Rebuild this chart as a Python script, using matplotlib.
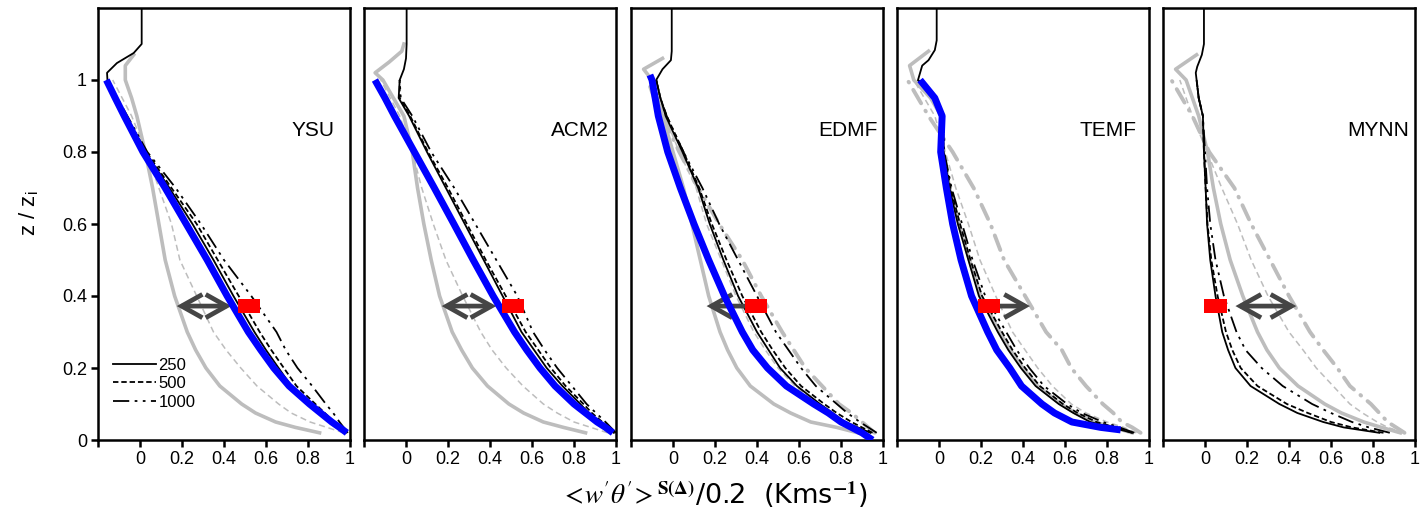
import numpy as np
import matplotlib
matplotlib.use("Agg")
import matplotlib.pyplot as plt
from matplotlib.patches import Rectangle, FancyArrowPatch

plt.rcParams['font.family'] = ['Liberation Sans', 'DejaVu Sans']
plt.rcParams['mathtext.fontset'] = 'stix'

nan = np.nan

# ---------------------------------------------------------------- data
schemes = ["YSU", "ACM2", "EDMF", "TEMF", "MYNN"]
resolutions = ["250", "500", "1000"]

# normalised heights z/zi shared by all profiles
z_lev = [0.02, 0.035, 0.05, 0.075, 0.1, 0.15, 0.2, 0.25, 0.3, 0.4, 0.5,
         0.6, 0.7, 0.8, 0.9, 0.95, 1.0]

# YSU
ysu_ref = [0.985, 0.95, 0.913, 0.86, 0.807, 0.71, 0.637, 0.575, 0.516, 0.415, 0.32, 0.22, 0.12, 0.014, -0.075, -0.118, -0.16]
ysu_250 = [0.98, 0.95, 0.915, 0.865, 0.81, 0.72, 0.66, 0.60, 0.545, 0.445, 0.35, 0.25, 0.14, 0.025, -0.07, -0.113, -0.155]
ysu_500 = [0.985, 0.955, 0.925, 0.88, 0.835, 0.745, 0.685, 0.625, 0.57, 0.47, 0.37, 0.27, 0.15, 0.03, -0.065, -0.11, -0.155]
ysu_1000 = [0.99, 0.97, 0.95, 0.92, 0.885, 0.82, 0.75, 0.694, 0.65, 0.53, 0.40, 0.29, 0.17, 0.035, -0.06, -0.108, -0.155]
ysu_g250 = [0.855, 0.74, 0.646, 0.55, 0.484, 0.38, 0.314, 0.265, 0.225, 0.165, 0.12, 0.09, 0.06, 0.025, -0.015, -0.04, -0.07]
ysu_g500 = [0.97, 0.89, 0.81, 0.72, 0.66, 0.557, 0.48, 0.41, 0.35, 0.27, 0.19, 0.15, 0.09, 0.03, -0.04, -0.085, -0.13]
ysu_g1000 = None
ysu_cap_z = [1.02, 1.047, 1.075, 1.10, 1.2]
ysu_cap_x = [-0.157, -0.11, -0.03, 0.008, 0.008]
ysu_gcap_z = [1.04, 1.07]
ysu_gcap_x = [-0.07, -0.03]

# ACM2
acm2_ref = [0.985, 0.95, 0.91, 0.855, 0.80, 0.71, 0.638, 0.575, 0.517, 0.415, 0.32, 0.228, 0.135, 0.04, -0.055, -0.10, -0.148]
acm2_250 = [0.99, 0.96, 0.925, 0.87, 0.83, 0.745, 0.67, 0.61, 0.55, 0.46, 0.37, 0.28, 0.19, 0.10, 0.015, -0.035, -0.03]
acm2_500 = [0.99, 0.965, 0.935, 0.885, 0.845, 0.76, 0.69, 0.63, 0.57, 0.475, 0.38, 0.29, 0.20, 0.105, 0.02, -0.03, -0.03]
acm2_1000 = [1.0, 0.975, 0.95, 0.905, 0.86, 0.79, 0.72, 0.66, 0.605, 0.53, 0.43, 0.33, 0.23, 0.12, 0.03, -0.025, -0.03]
acm2_g250 = [0.855, 0.75, 0.654, 0.56, 0.49, 0.388, 0.316, 0.265, 0.22, 0.16, 0.12, 0.085, 0.055, 0.03, -0.01, -0.06, -0.11]
acm2_g500 = [0.96, 0.88, 0.80, 0.72, 0.654, 0.557, 0.477, 0.41, 0.356, 0.27, 0.19, 0.13, 0.075, 0.03, -0.03, -0.075, -0.12]
acm2_g1000 = None
acm2_cap_z = [1.03, 1.06, 1.1, 1.2]
acm2_cap_x = [-0.01, 0.0, 0.003, 0.003]
acm2_gcap_z = [1.02, 1.05, 1.08, 1.1]
acm2_gcap_x = [-0.147, -0.08, -0.02, -0.01]

# EDMF
edmf_ref = [0.90, 0.85, 0.80, 0.74, 0.67, 0.54, 0.45, 0.38, 0.33, 0.245, 0.17, 0.10, 0.035, -0.025, -0.07, -0.085, -0.10]
edmf_250 = [0.94, 0.88, 0.82, 0.76, 0.70, 0.59, 0.51, 0.455, 0.40, 0.31, 0.24, 0.175, 0.12, 0.045, -0.035, -0.06, -0.08]
edmf_500 = [0.95, 0.90, 0.85, 0.78, 0.72, 0.61, 0.535, 0.475, 0.42, 0.33, 0.255, 0.185, 0.125, 0.05, -0.03, -0.06, -0.08]
edmf_1000 = [0.97, 0.93, 0.89, 0.83, 0.78, 0.68, 0.61, 0.55, 0.49, 0.40, 0.31, 0.22, 0.14, 0.05, -0.03, -0.06, -0.08]
edmf_g250 = [0.88, 0.78, 0.656, 0.56, 0.48, 0.368, 0.304, 0.26, 0.224, 0.17, 0.13, 0.09, 0.05, 0.0, -0.05, -0.075, -0.10]
edmf_g500 = [0.94, 0.88, 0.82, 0.75, 0.69, 0.58, 0.50, 0.44, 0.385, 0.30, 0.23, 0.16, 0.11, 0.03, -0.04, -0.07, -0.10]
edmf_g1000 = [0.96, 0.93, 0.90, 0.85, 0.79, 0.71, 0.63, 0.575, 0.52, 0.42, 0.33, 0.22, 0.12, 0.03, -0.05, -0.09, -0.12]
edmf_cap_z = [1.03, 1.055, 1.08, 1.2]
edmf_cap_x = [-0.05, -0.01, -0.006, -0.006]
edmf_gcap_z = [1.03, 1.06]
edmf_gcap_x = [-0.14, -0.05]

# TEMF
temf_ref = [nan, 0.77, 0.633, 0.55, 0.49, 0.393, 0.337, 0.275, 0.232, 0.155, 0.105, 0.065, 0.035, 0.008, 0.015, -0.02, -0.09]
temf_250 = [0.92, 0.82, 0.72, 0.64, 0.57, 0.46, 0.39, 0.33, 0.28, 0.19, 0.14, 0.09, 0.05, 0.02, 0.02, -0.02, -0.10]
temf_500 = [0.92, 0.84, 0.75, 0.66, 0.59, 0.48, 0.41, 0.35, 0.30, 0.205, 0.15, 0.10, 0.055, 0.022, 0.02, -0.02, -0.10]
temf_1000 = [0.93, 0.86, 0.78, 0.68, 0.61, 0.50, 0.43, 0.37, 0.32, 0.22, 0.16, 0.11, 0.06, 0.025, 0.02, -0.02, -0.10]
temf_g250 = [0.92, 0.83, 0.74, 0.65, 0.58, 0.47, 0.40, 0.34, 0.29, 0.20, 0.145, 0.095, 0.05, 0.02, 0.01, -0.04, -0.12]
temf_g500 = [0.94, 0.88, 0.80, 0.70, 0.63, 0.54, 0.47, 0.41, 0.35, 0.27, 0.195, 0.14, 0.08, 0.03, -0.02, -0.07, -0.12]
temf_g1000 = [0.96, 0.92, 0.87, 0.83, 0.78, 0.70, 0.63, 0.585, 0.51, 0.41, 0.31, 0.245, 0.165, 0.065, -0.05, -0.10, -0.15]
temf_cap_z = [1.04, 1.055, 1.083, 1.11, 1.2]
temf_cap_x = [-0.08, -0.05, -0.02, -0.011, -0.011]
temf_gcap_z = [1.04, 1.08]
temf_gcap_x = [-0.14, -0.05]

# MYNN (no reference profile)
mynn_ref = None
mynn_250 = [0.83, 0.66, 0.563, 0.44, 0.354, 0.217, 0.145, 0.11, 0.082, 0.05, 0.025, 0.01, 0.003, -0.005, -0.01, -0.03, -0.04]
mynn_500 = [0.85, 0.70, 0.60, 0.49, 0.39, 0.25, 0.17, 0.13, 0.10, 0.06, 0.03, 0.012, 0.003, -0.005, -0.01, -0.03, -0.04]
mynn_1000 = [0.88, 0.78, 0.70, 0.60, 0.51, 0.37, 0.27, 0.193, 0.15, 0.09, 0.05, 0.025, 0.01, 0.0, -0.01, -0.03, -0.04]
mynn_g250 = [0.93, 0.84, 0.756, 0.65, 0.57, 0.443, 0.354, 0.295, 0.25, 0.18, 0.12, 0.075, 0.04, 0.012, -0.03, -0.06, -0.09]
mynn_g500 = [0.95, 0.87, 0.82, 0.75, 0.69, 0.61, 0.53, 0.467, 0.40, 0.30, 0.22, 0.155, 0.08, 0.01, -0.06, -0.09, -0.12]
mynn_g1000 = [0.95, 0.91, 0.87, 0.83, 0.79, 0.69, 0.63, 0.563, 0.50, 0.40, 0.31, 0.22, 0.14, 0.02, -0.06, -0.11, -0.16]
mynn_cap_z = [1.02, 1.037, 1.07, 1.10, 1.2]
mynn_cap_x = [-0.044, -0.037, -0.015, -0.005, -0.005]
mynn_gcap_z = [1.03, 1.07]
mynn_gcap_x = [-0.14, -0.04]

# end points of the reference profile outside the common levels
ref_bottom = [None, None, (0.95, 0.0), (0.865, 0.028), None]
ref_top = [None, None, (-0.11, 1.014), None, None]

# target value at z/zi = 0.372 (red mark) and spread arrows
mark_z = 0.372
mark_x = [0.52, 0.51, 0.394, 0.24, 0.05]
arrow_from = [0.175, 0.17, 0.37, 0.25, 0.145]
arrow_to = [0.435, 0.43, 0.16, 0.433, 0.435]
arrow_kind = ["<->", "<->", "->", "->", "<->"]

xticks = [-0.2, 0, 0.2, 0.4, 0.6, 0.8, 1.0]
xtick_labels = ["", "0", "0.2", "0.4", "0.6", "0.8", "1"]
yticks = [0, 0.2, 0.4, 0.6, 0.8, 1.0]
ytick_labels = ["0", "0.2", "0.4", "0.6", "0.8", "1"]

# ---------------------------------------------------------------- grouping
refs = [ysu_ref, acm2_ref, edmf_ref, temf_ref, mynn_ref]
black = [[ysu_250, ysu_500, ysu_1000], [acm2_250, acm2_500, acm2_1000],
         [edmf_250, edmf_500, edmf_1000], [temf_250, temf_500, temf_1000],
         [mynn_250, mynn_500, mynn_1000]]
gray = [[ysu_g250, ysu_g500, ysu_g1000], [acm2_g250, acm2_g500, acm2_g1000],
        [edmf_g250, edmf_g500, edmf_g1000], [temf_g250, temf_g500, temf_g1000],
        [mynn_g250, mynn_g500, mynn_g1000]]
caps = [(ysu_cap_z, ysu_cap_x), (acm2_cap_z, acm2_cap_x), (edmf_cap_z, edmf_cap_x),
        (temf_cap_z, temf_cap_x), (mynn_cap_z, mynn_cap_x)]
gcaps = [(ysu_gcap_z, ysu_gcap_x), (acm2_gcap_z, acm2_gcap_x), (edmf_gcap_z, edmf_gcap_x),
         (temf_gcap_z, temf_gcap_x), (mynn_gcap_z, mynn_gcap_x)]


def profile(xs, extra_z=(), extra_x=()):
    """Join a profile on the common levels with extra points, ordered by height."""
    z = np.r_[np.array(z_lev, float), np.array(extra_z, float)]
    x = np.r_[np.array(xs, float), np.array(extra_x, float)]
    ok = ~np.isnan(x)
    z, x = z[ok], x[ok]
    order = np.argsort(z, kind="stable")
    return x[order], z[order]


# ---------------------------------------------------------------- styles
BLACK_STYLES = [dict(ls="-"), dict(ls=(0, (3, 1.6))), dict(ls=(0, (9, 3, 1.5, 3, 1.5, 3)))]
GRAY_C = "#bdbdbd"
GRAY_STYLES = [dict(ls="-", lw=2.6), dict(ls=(0, (4, 2.5)), lw=1.1),
               dict(ls=(0, (4, 2.2, 0.2, 2.2)), lw=2.8, dash_capstyle="round")]
label_x = [0.925, 0.967, 0.976, 0.94, 0.97]

W, H = 1423, 511
lefts = [98, 364, 631, 897, 1163]
fig = plt.figure(figsize=(W / 100, H / 100), dpi=100)

legend_handles = []
for i, name in enumerate(schemes):
    ax = fig.add_axes([lefts[i] / W, 71 / H, 252 / W, 432 / H])
    ax.set_xlim(-0.2, 1.0)
    ax.set_ylim(0, 1.2)

    for k, xs in enumerate(gray[i]):
        if xs is None:
            continue
        if k == 0:
            xx, zz = profile(xs, *gcaps[i])
        else:
            xx, zz = profile(xs)
        ax.plot(xx, zz, color=GRAY_C, zorder=2, **GRAY_STYLES[k])

    for k, xs in enumerate(black[i]):
        if k == 0:
            xx, zz = profile(xs, *caps[i])
        else:
            xx, zz = profile(xs)
        ln, = ax.plot(xx, zz, color="black", lw=1.3, zorder=3,
                      label=resolutions[k], **BLACK_STYLES[k])
        if i == 0:
            legend_handles.append(ln)

    ax.add_patch(FancyArrowPatch((arrow_from[i], mark_z), (arrow_to[i], mark_z),
                                 arrowstyle=f"{arrow_kind[i]},head_length=0.75,head_width=0.42",
                                 mutation_scale=20, edgecolor="#454545", facecolor="none",
                                 lw=3.4, joinstyle="miter", capstyle="butt",
                                 shrinkA=0, shrinkB=0, zorder=4))

    if refs[i] is not None:
        ez, ex = [], []
        for pt in (ref_bottom[i], ref_top[i]):
            if pt is not None:
                ex.append(pt[0])
                ez.append(pt[1])
        xx, zz = profile(refs[i], ez, ex)
        ax.plot(xx, zz, color="#0000ff", lw=5, zorder=5, solid_capstyle="butt")

    ax.add_patch(Rectangle((mark_x[i] - 0.0525, mark_z - 0.019), 0.105, 0.038,
                           facecolor="#ff0000", edgecolor="none", zorder=6))

    ax.text(label_x[i], 0.86, name, ha="right", va="center", fontsize=15)

    for sp in ax.spines.values():
        sp.set_linewidth(1.8)
    ax.set_xticks(xticks)
    ax.set_xticklabels(xtick_labels)
    ax.tick_params(axis="both", direction="out", length=5, width=1.8,
                   labelsize=13, pad=3)
    if i == 0:
        ax.set_yticks(yticks)
        ax.set_yticklabels(ytick_labels)
        ax.legend(handles=legend_handles, loc="upper left",
                  bbox_to_anchor=(0.058, 0.19), frameon=False, fontsize=12,
                  handlelength=2.6, handletextpad=0.15, labelspacing=0.2,
                  borderpad=0, borderaxespad=0)
    else:
        ax.set_yticks([])

fig.text(28 / W, 1 - 213 / H, r"z / z$_{\mathregular{i}}$", rotation=90,
         ha="center", va="center", fontsize=16)
fig.text(714 / W, 1 - 494 / H,
         r"$<\!w'\theta'\!>^{\mathbf{S(\Delta)}}$/0.2  (Kms$^{\mathbf{-1}}$)",
         ha="center", va="center", fontsize=19.5, family="DejaVu Sans")

fig.savefig("out.png", dpi=100)
